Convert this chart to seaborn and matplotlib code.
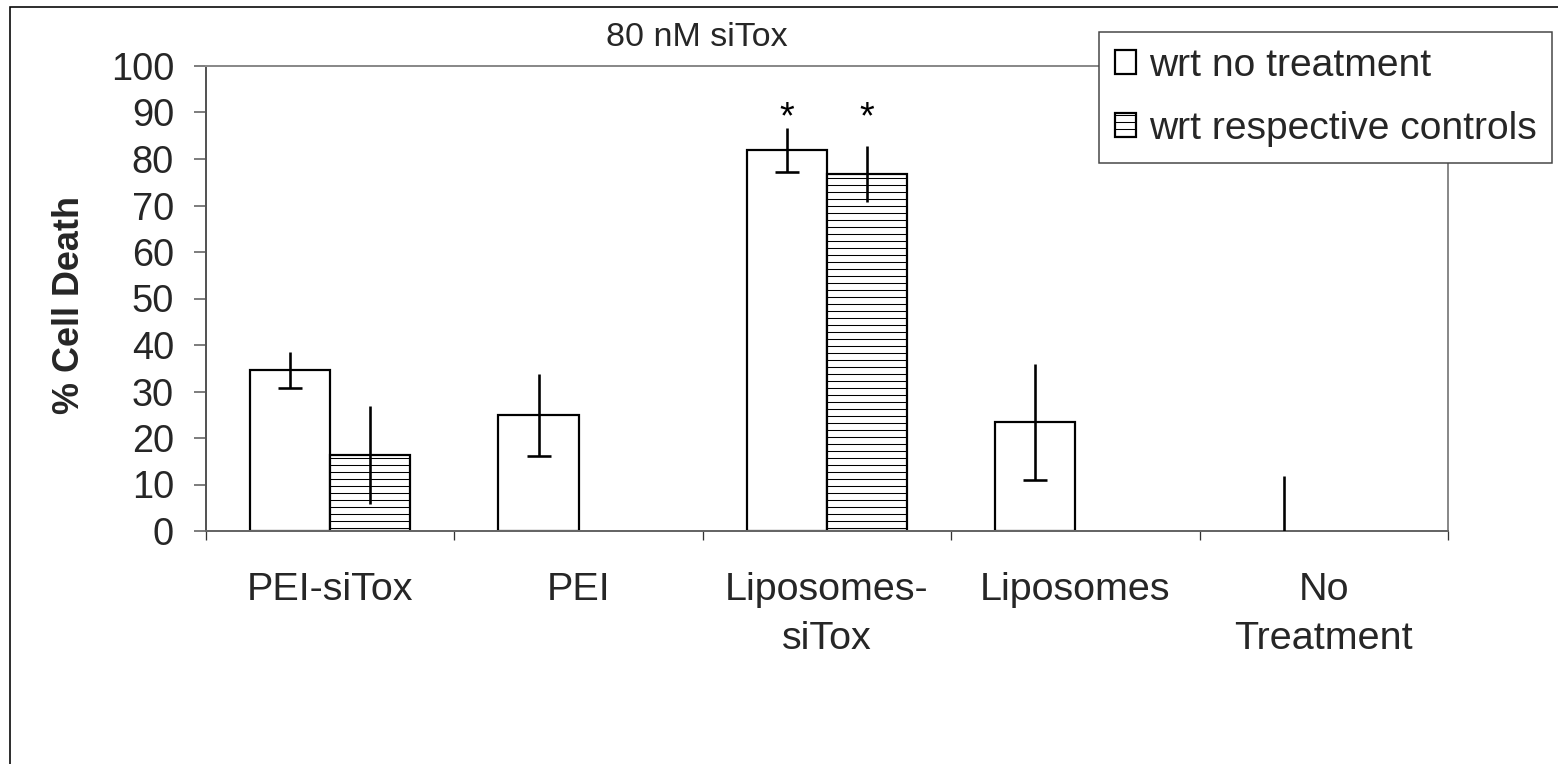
import numpy as np
import pandas as pd
import matplotlib
matplotlib.use("Agg")
import matplotlib.pyplot as plt
import seaborn as sns
from matplotlib.patches import Patch, Rectangle

# ---------------- data ----------------
categories = ["PEI-siTox", "PEI", "Liposomes-\nsiTox", "Liposomes", "No\nTreatment"]
series = ["wrt no treatment", "wrt respective controls"]
vals_no_treatment = [34.6, 24.9, 81.9, 23.5, 0.0]
err_no_treatment = [3.9, 8.8, 4.7, 12.5, 11.8]
vals_controls = [16.4, np.nan, 76.7, np.nan, np.nan]
err_controls = [10.5, np.nan, 6.0, np.nan, np.nan]
significant = [False, False, True, False, False]
yticks = list(range(0, 101, 10))
title_text = "80 nM siTox"
ylabel_text = "% Cell Death"

# ---------------- figure geometry ----------------
DPI = 126
W, H = 1558, 764


def pt(px):
    return px * 72.0 / DPI


sns.set_style("white")
plt.rcParams["font.family"] = ["Liberation Sans", "DejaVu Sans"]
plt.rcParams["hatch.linewidth"] = 0.6
plt.rcParams["hatch.color"] = "black"

df = pd.DataFrame({
    "category": categories * 2,
    "series": [series[0]] * len(categories) + [series[1]] * len(categories),
    "value": vals_no_treatment + vals_controls,
})

fig = plt.figure(figsize=(W / DPI, H / DPI), dpi=DPI)
ax = fig.add_axes([206 / W, 1 - 531 / H, (1448 - 206) / W, (531 - 66) / H])

sns.barplot(data=df, x="category", y="value", hue="series", order=categories,
            hue_order=series, palette=["white", "white"], saturation=1,
            width=0.645, edgecolor="black", linewidth=pt(2.2), errorbar=None,
            legend=False, ax=ax, zorder=2)

errs = [err_no_treatment, err_controls]
group_top = {}
star_x = []
for p in list(ax.patches):
    if not isinstance(p, Rectangle):
        continue
    h = p.get_height()
    if h is None or np.isnan(h):
        continue
    cx = p.get_x() + p.get_width() / 2
    i = int(round(cx))
    s = 0 if cx < i else 1
    if s == 1:
        p.set_hatch("---")
    if h == 0:
        p.set_linewidth(0)
    e = errs[s][i]
    ax.errorbar([cx], [h], yerr=[e], fmt="none", ecolor="black",
                elinewidth=pt(2.6), capsize=0, zorder=3)
    if s == 0:
        ax.plot([cx], [h - e], marker="_", markersize=pt(24),
                markeredgewidth=pt(2.6), color="black", zorder=3)
    group_top[i] = max(group_top.get(i, 0), h + e)
    if significant[i]:
        star_x.append(cx)

for cx in star_x:
    i = int(round(cx))
    ax.text(cx, group_top[i], "*", ha="center", va="baseline",
            fontsize=pt(38), color="black", zorder=4)

ax.set_ylim(0, 100)
ax.set_yticks(yticks)
ax.set_yticklabels([str(t) for t in yticks])
ax.set_xlim(-0.5, len(categories) - 0.5)
ax.set_xticks(np.arange(len(categories) + 1) - 0.5)
ax.set_xticklabels([])
ax.set_xticks(np.arange(len(categories)), minor=True)
ax.set_xticklabels(categories, minor=True, linespacing=1.45)

ax.tick_params(axis="y", which="major", direction="out", length=pt(12),
               width=pt(1.5), color="#555555", labelsize=pt(38), pad=pt(20),
               left=True)
ax.tick_params(axis="x", which="major", direction="out", length=pt(9),
               width=pt(1.3), color="#333333", bottom=True)
ax.tick_params(axis="x", which="minor", length=0, labelsize=pt(39.5),
               pad=pt(41), bottom=True)

ax.set_xlabel("")
ax.set_ylabel(ylabel_text, fontsize=pt(36), fontweight="bold")
ax.yaxis.set_label_coords((87 - 206) / (1448 - 206), 0.486)

for side, col in [("left", "#555555"), ("bottom", "#666666"),
                  ("top", "#8a8a8a"), ("right", "#8a8a8a")]:
    ax.spines[side].set_visible(True)
    ax.spines[side].set_color(col)
    ax.spines[side].set_linewidth(pt(2))
ax.grid(False)

handles = [Patch(facecolor="white", edgecolor="black", linewidth=pt(2.2)),
           Patch(facecolor="white", edgecolor="black", hatch="---",
                 linewidth=pt(2.2))]
leg = fig.legend(handles, series, loc="upper left",
                 bbox_to_anchor=(1099 / W, 1 - 32 / H),
                 bbox_transform=fig.transFigure, borderaxespad=0,
                 fontsize=pt(39), handlelength=0.55, handleheight=0.55,
                 handletextpad=0.33, borderpad=0.4, labelspacing=0.7,
                 frameon=True, fancybox=False, edgecolor="#444444",
                 framealpha=1)
leg.get_frame().set_linewidth(pt(1.5))

fig.text(697 / W, 1 - 38 / H, title_text, ha="center", va="center",
         fontsize=pt(34))

fig.add_artist(Rectangle((10 / W, -0.1), 1.2, 1.1 - 7 / H, fill=False,
                         edgecolor="black", linewidth=pt(1.6),
                         transform=fig.transFigure, clip_on=False))

fig.savefig("out.png", dpi=DPI, facecolor="white")
